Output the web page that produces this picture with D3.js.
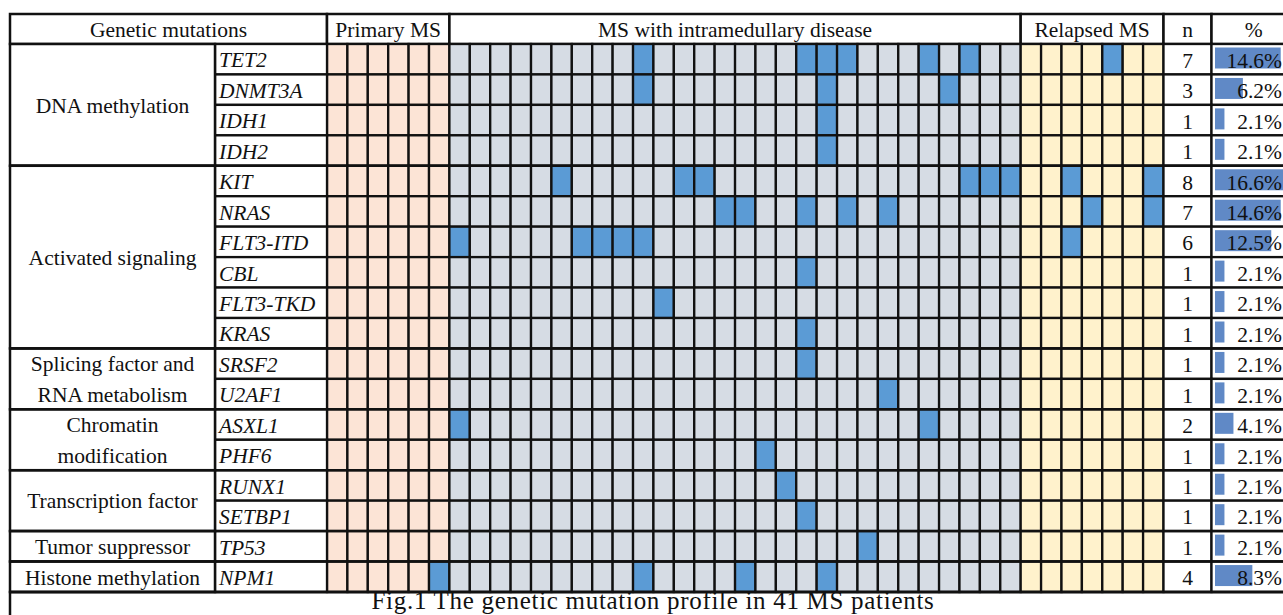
<!DOCTYPE html>
<meta charset="utf-8">
<style>
  body { margin: 0; background: #fff; }
  text { font-family: "Liberation Serif", "Times New Roman", serif; fill: #111; }
</style>
<script src="https://d3js.org/d3.v7.min.js"></script>
<body>
<div id="chart"></div>
<script>

  // patient cohorts (columns) and how many patients each one has
  var cohorts = ["Primary MS", "MS with intramedullary disease", "Relapsed MS"];
  var cohortSizes = [6, 28, 7];

  // pathway groups and the number of genes in each
  var pathways = [["DNA methylation"], ["Activated signaling"], ["Splicing factor and", "RNA metabolism"],
                  ["Chromatin", "modification"], ["Transcription factor"], ["Tumor suppressor"], ["Histone methylation"]];
  var pathwayGeneCounts = [4, 6, 2, 2, 2, 1, 1];

  var genes = ["TET2", "DNMT3A", "IDH1", "IDH2", "KIT", "NRAS", "FLT3-ITD", "CBL", "FLT3-TKD", "KRAS",
               "SRSF2", "U2AF1", "ASXL1", "PHF6", "RUNX1", "SETBP1", "TP53", "NPM1"];

  // patient index (0..40) of every mutated cell, per gene
  var mutated = [
    [15, 23, 24, 25, 29, 31, 38],
    [15, 24, 30],
    [24],
    [24],
    [11, 17, 18, 31, 32, 33, 36, 40],
    [19, 20, 23, 25, 27, 37, 40],
    [6, 12, 13, 14, 15, 36],
    [23],
    [16],
    [23],
    [23],
    [27],
    [6, 29],
    [21],
    [22],
    [23],
    [26],
    [5, 15, 20, 24]
  ];

  var counts = [7, 3, 1, 1, 8, 7, 6, 1, 1, 1, 1, 1, 2, 1, 1, 1, 1, 4];
  var percents = [14.6, 6.2, 2.1, 2.1, 16.6, 14.6, 12.5, 2.1, 2.1, 2.1, 2.1, 2.1, 4.1, 2.1, 2.1, 2.1, 2.1, 8.3];

  var caption = "Fig.1 The genetic mutation profile in 41 MS patients";

  var width = 1283,
      height = 615;

  var cohortColor = ["#fce4d6", "#d6dce4", "#fff2cc"];
  var hitColor = "#5b9bd5";
  var barColor = "#6089c6";

  // column edges of the table
  var xGroup = 10, xGene = 215, xGrid0 = 327, xGrid1 = 1163.5, xN1 = 1211.5, xPct1 = 1296;
  var yTop = 14, yHead = 44, yBody = 592;

  var nPatients = d3.sum(cohortSizes);

  var svg = d3.select("#chart")
              .append("svg")
                .attr("width", width)
                .attr("height", height);

  var x = d3.scaleBand()
      .domain(d3.range(nPatients))
      .range([xGrid0, xGrid1]);

  var y = d3.scaleBand()
      .domain(genes)
      .range([yHead, yBody]);

  var pct = d3.scaleLinear()
      .domain([0, 100])
      .range([0, 450]);

  var starts = d3.cumsum([0].concat(cohortSizes));
  function cohortOf(i) {
    return d3.bisectRight(starts, i) - 1;
  }

  // header row
  var head = [
    { x0: xGroup, x1: xGrid0, label: "Genetic mutations" },
    { x0: x(starts[0]), x1: x(starts[1]), label: cohorts[0] },
    { x0: x(starts[1]), x1: x(starts[2]), label: cohorts[1] },
    { x0: x(starts[2]), x1: xGrid1, label: cohorts[2] },
    { x0: xGrid1, x1: xN1, label: "n" },
    { x0: xN1, x1: xPct1, label: "%" }
  ];

  var hg = svg.append("g");
  hg.selectAll("rect").data(head).enter().append("rect")
      .attr("x", d => d.x0).attr("y", yTop)
      .attr("width", d => d.x1 - d.x0).attr("height", yHead - yTop)
      .attr("fill", "#fff").attr("stroke", "#111").attr("stroke-width", 2.5);
  hg.selectAll("text").data(head).enter().append("text")
      .attr("x", d => (d.x0 + d.x1) / 2).attr("y", (yTop + yHead) / 2)
      .attr("dy", "0.36em")
      .attr("text-anchor", "middle")
      .style("font-size", "21.5px")
      .text(d => d.label);

  // grid cells
  var cells = [];
  genes.forEach(function(g, r) {
    d3.range(nPatients).forEach(function(i) {
      cells.push({ gene: g, patient: i, hit: mutated[r].indexOf(i) >= 0 });
    });
  });

  svg.append("g").selectAll("rect")
    .data(cells).enter().append("rect")
      .attr("x", d => x(d.patient))
      .attr("y", d => y(d.gene))
      .attr("width", x.bandwidth())
      .attr("height", y.bandwidth())
      .attr("fill", d => d.hit ? hitColor : cohortColor[cohortOf(d.patient)])
      .attr("stroke", "#111")
      .attr("stroke-width", 2.3);

  // gene names
  var rows = svg.append("g").selectAll("g")
    .data(genes).enter().append("g");

  rows.append("rect")
      .attr("x", xGene).attr("y", d => y(d))
      .attr("width", xGrid0 - xGene).attr("height", y.bandwidth())
      .attr("fill", "#fff").attr("stroke", "#111").attr("stroke-width", 2.3);
  rows.append("text")
      .attr("x", xGene + 4).attr("y", d => y(d) + y.bandwidth() / 2)
      .attr("dy", "0.38em")
      .style("font-size", "21.5px")
      .style("font-style", "italic")
      .text(d => d);

  // n column
  rows.append("rect")
      .attr("x", xGrid1).attr("y", d => y(d))
      .attr("width", xN1 - xGrid1).attr("height", y.bandwidth())
      .attr("fill", "#fff").attr("stroke", "#111").attr("stroke-width", 2.3);
  rows.append("text")
      .attr("x", (xGrid1 + xN1) / 2).attr("y", d => y(d) + y.bandwidth() / 2)
      .attr("dy", "0.4em")
      .attr("text-anchor", "middle")
      .style("font-size", "21.5px")
      .text((d, i) => counts[i]);

  // % column with bars
  rows.append("rect")
      .attr("x", xN1).attr("y", d => y(d))
      .attr("width", xPct1 - xN1).attr("height", y.bandwidth())
      .attr("fill", "#fff").attr("stroke", "#111").attr("stroke-width", 2.3);
  rows.append("rect")
      .attr("x", xN1 + 3.5).attr("y", d => y(d) + 3.5)
      .attr("width", (d, i) => pct(percents[i])).attr("height", 21)
      .attr("fill", barColor);
  rows.append("text")
      .attr("x", width - 1).attr("y", d => y(d) + y.bandwidth() / 2)
      .attr("dy", "0.4em")
      .attr("text-anchor", "end")
      .style("font-size", "21.5px")
      .text((d, i) => percents[i].toFixed(1) + "%");

  // pathway blocks
  var gStarts = d3.cumsum([0].concat(pathwayGeneCounts));
  var blocks = pathways.map(function(lines, k) {
    var y0 = y(genes[gStarts[k]]);
    var y1 = y(genes[gStarts[k + 1] - 1]) + y.bandwidth();
    return { lines: lines, y0: y0, y1: y1 };
  });

  var pg = svg.append("g").selectAll("g")
    .data(blocks).enter().append("g");

  pg.append("rect")
      .attr("x", xGroup).attr("y", d => d.y0)
      .attr("width", xGene - xGroup).attr("height", d => d.y1 - d.y0)
      .attr("fill", "#fff").attr("stroke", "#111").attr("stroke-width", 2.5);
  pg.each(function(d) {
    var mid = (d.y0 + d.y1) / 2;
    var n = d.lines.length;
    d3.select(this).selectAll("text")
      .data(d.lines).enter().append("text")
        .attr("x", (xGroup + xGene) / 2)
        .attr("y", (t, i) => mid + (i - (n - 1) / 2) * y.bandwidth())
        .attr("dy", "0.36em")
        .attr("text-anchor", "middle")
        .style("font-size", "21.5px")
        .text(t => t);
  });

  // thicker separators between pathway groups, across the whole table
  svg.append("g").selectAll("line")
    .data(blocks).enter().append("line")
      .attr("x1", xGroup).attr("x2", xPct1)
      .attr("y1", d => d.y1).attr("y2", d => d.y1)
      .attr("stroke", "#111").attr("stroke-width", 2.5);

  // caption row
  svg.append("rect")
      .attr("x", xGroup).attr("y", yBody)
      .attr("width", xPct1 - xGroup).attr("height", 60)
      .attr("fill", "none").attr("stroke", "#111").attr("stroke-width", 2.5);
  svg.append("text")
      .attr("x", (xGroup + xPct1) / 2).attr("y", 609.3)
      .attr("text-anchor", "middle")
      .style("font-size", "25px")
      .style("letter-spacing", "0.7px")
      .text(caption);

</script>
</body>
